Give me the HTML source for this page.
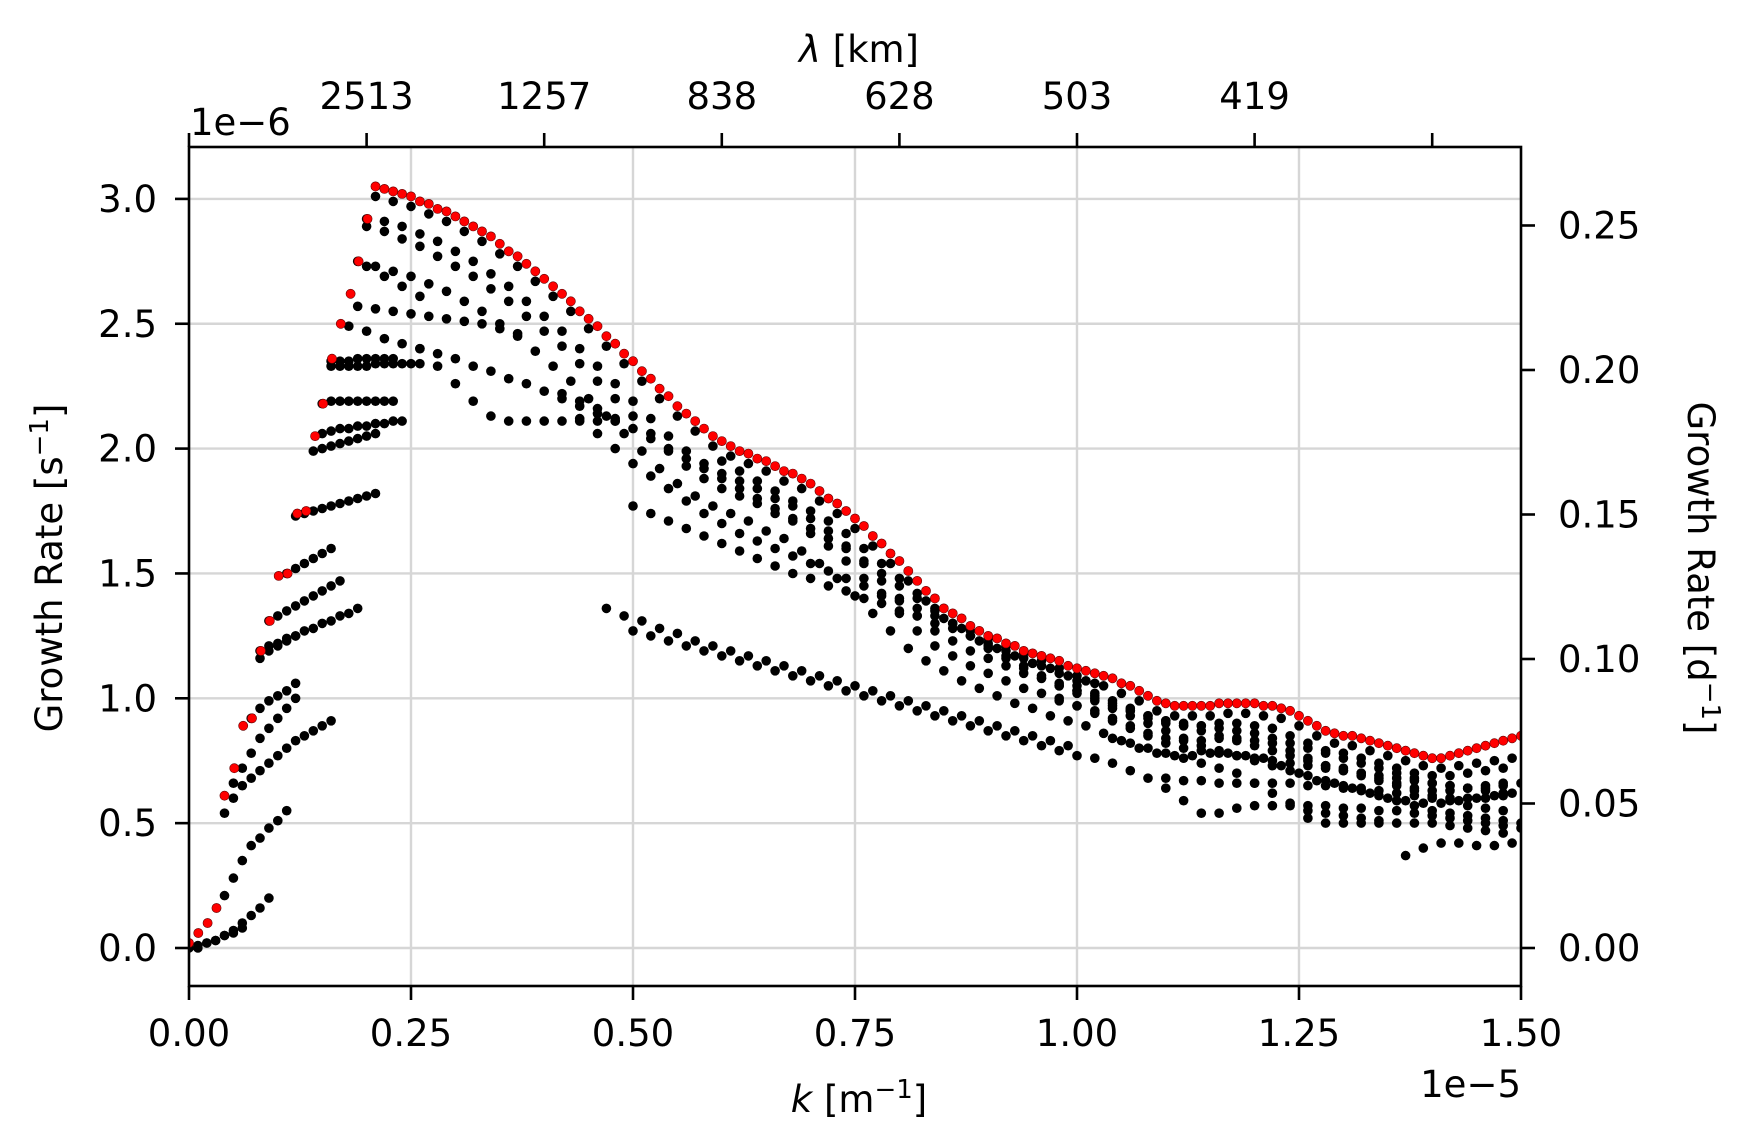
<!DOCTYPE html>
<html><head><meta charset="utf-8"><style>
html,body{margin:0;padding:0;background:#fff;}
svg{display:block;font-family:"DejaVu Sans","Liberation Sans",sans-serif;}
</style></head><body>
<svg id="chart" width="1756" height="1148" viewBox="0 0 1756 1148" xmlns="http://www.w3.org/2000/svg">
<rect x="0" y="0" width="1756" height="1148" fill="#fff"/>
<g id="grid"></g>
<g id="marks"></g>
<g id="axes"></g>
</svg>
<script>
// ---- data (k in 1e-5 m^-1, growth in 1e-6 s^-1) ----
const xTicks = [0, 0.25, 0.5, 0.75, 1.0, 1.25, 1.5];
const xTickLabels = ["0.00","0.25","0.50","0.75","1.00","1.25","1.50"];
const yTicks = [0, 0.5, 1.0, 1.5, 2.0, 2.5, 3.0];
const yTickLabels = ["0.0","0.5","1.0","1.5","2.0","2.5","3.0"];
const rightTicks = [0, 0.05, 0.10, 0.15, 0.20, 0.25];
const rightTickLabels = ["0.00","0.05","0.10","0.15","0.20","0.25"];
const topTicks = [0, 0.2, 0.4, 0.6, 0.8, 1.0, 1.2, 1.4];
const topTickLabels = ["","2513","1257","838","628","503","419",""];

const redLowK = [0.0,0.0105,0.021,0.031,0.04,0.051,0.061,0.071,0.081,0.091,0.101,0.111,0.122,0.132,0.142,0.151,0.161,0.171,0.182,0.191,0.201];
const redLowV = [0.02,0.06,0.10,0.16,0.61,0.72,0.89,0.92,1.19,1.31,1.49,1.50,1.74,1.75,2.05,2.18,2.36,2.50,2.62,2.75,2.92];
const redStart = 0.21;
const redValues = [3.05,3.04,3.03,3.02,3.01,2.99,2.98,2.96,2.95,2.93,2.91,2.89,2.87,2.85,2.82,2.79,2.77,2.74,2.71,2.68,
2.65,2.62,2.59,2.55,2.52,2.49,2.45,2.42,2.38,2.35,2.31,2.28,2.24,2.21,2.17,2.14,2.11,2.08,2.05,2.03,
2.01,1.99,1.98,1.96,1.95,1.93,1.91,1.90,1.88,1.86,1.83,1.80,1.78,1.75,1.72,1.69,1.65,1.62,1.58,1.55,
1.51,1.47,1.43,1.40,1.36,1.34,1.32,1.29,1.27,1.25,1.24,1.22,1.21,1.19,1.18,1.17,1.16,1.15,1.13,1.12,
1.11,1.10,1.09,1.08,1.06,1.05,1.03,1.01,0.99,0.98,0.97,0.97,0.97,0.97,0.97,0.98,0.98,0.98,0.98,0.98,
0.97,0.97,0.96,0.95,0.93,0.91,0.89,0.87,0.86,0.85,0.85,0.84,0.83,0.82,0.81,0.80,0.79,0.78,0.77,0.76,
0.76,0.77,0.78,0.79,0.80,0.81,0.82,0.83,0.84,0.85];

// black branches: start k, step, values
const branchStarts = [0.00,0.01,0.04,0.04,0.05,0.07,0.08,0.08,0.09,0.11,0.12,0.14,0.15,0.15,0.16,0.16,
  0.18,0.26,0.44,0.50,0.47,0.50,1.16,1.10,1.26,1.37,0.21,0.20,0.20,0.19,0.20,0.19,0.42,0.60,1.04,1.00,0.98];
const branchSteps = [0.01,0.01,0.01,0.01,0.01,0.01,0.01,0.01,0.01,0.01,0.01,0.01,0.01,0.01,0.01,0.01,
  0.02,0.02,0.02,0.02,0.02,0.02,0.02,0.02,0.02,0.02,0.02,0.02,0.02,0.02,0.02,0.02,0.02,0.02,0.02,0.02,0.02];
const b0 = [0.00,0.01,0.02,0.03,0.05,0.07,0.10,0.13,0.16,0.20];
const b1 = [0.00,0.02,0.03,0.05,0.06,0.08];
const b2 = [0.21,0.28,0.35,0.41,0.44,0.48,0.51,0.55];
const b3 = [0.54,0.60,0.65,0.68,0.71,0.74,0.77,0.80,0.83,0.85,0.87,0.89,0.91];
const b4 = [0.66,0.72,0.78,0.84,0.88,0.92,0.96,1.00];
const b5 = [0.92,0.96,0.99,1.01,1.03,1.06];
const b6 = [1.16,1.19,1.21,1.23,1.25,1.27,1.28,1.30,1.31,1.33,1.34,1.36];
const b7 = [1.19,1.21,1.22,1.24,1.25];
const b8 = [1.31,1.33,1.35,1.37,1.39,1.41,1.43,1.45,1.47];
const b9 = [1.50,1.52,1.54,1.56,1.58,1.60];
const b10 = [1.73,1.74,1.75,1.76,1.77,1.78,1.79,1.80,1.81,1.82];
const b11 = [1.99,2.00,2.01,2.02,2.03,2.04,2.05,2.06];
const b12 = [2.06,2.07,2.08,2.08,2.09,2.09,2.10,2.10,2.11,2.11];
const b13 = [2.18,2.19,2.19,2.19,2.19,2.19,2.19,2.19,2.19];
const b14 = [2.33,2.33,2.33,2.33,2.33,2.34,2.34,2.34,2.34,2.34,2.34];
const b15 = [2.35,2.35,2.35,2.36,2.36,2.36,2.36,2.36];
const b16 = [2.49,2.47,2.44,2.42,2.40,2.38,2.36,2.33,2.31,2.28,2.26,2.23,2.20,2.17,2.14,2.11];
const b17 = [2.40,2.33,2.26,2.19,2.13,2.11,2.11,2.11,2.11,2.11,2.11,2.11];
const b18 = [2.12,2.06,2.00,1.94,1.89,1.84,1.79,1.74,1.70,1.66,1.63,1.60,1.57,1.54,1.51,1.48,1.45,1.42,1.39,1.36,1.33,1.30,1.27,1.24,1.21,1.18,1.15,1.12,1.09,1.06];
const b19 = [1.77,1.74,1.71,1.68,1.65,1.62,1.59,1.56,1.53,1.50,1.48,1.45,1.43,1.40,1.38,1.35,1.33,1.30,1.28,1.25,1.22,1.19,1.16,1.13,1.10,1.07];
const b20 = [1.36,1.33,1.31,1.28,1.26,1.23,1.21,1.19,1.17,1.15,1.13,1.11,1.09,1.07,1.05,1.03,1.01,0.99,0.97,0.95,0.93,0.91,0.89,0.87,0.85,0.83,0.81];
const b21 = [1.27,1.25,1.23,1.21,1.19,1.17,1.15,1.13,1.11,1.09,1.07,1.05,1.03,1.01,0.99,0.97,0.95,0.93,0.91,0.89,0.87,0.85,0.83,0.81,0.79,0.77,0.76,0.74,0.71,0.68,0.64,0.59,0.54];
const b22 = [0.54,0.56,0.57,0.57,0.57,0.57,0.57,0.56,0.56,0.55,0.55,0.54,0.53,0.52,0.51,0.50,0.49,0.48];
const b23 = [0.68,0.67,0.67,0.66,0.66,0.66,0.66,0.66,0.65,0.65,0.64,0.64,0.63,0.62,0.61,0.60,0.60,0.60,0.60,0.61];
const b24 = [0.52,0.50,0.50,0.50,0.50,0.50,0.50,0.50,0.49,0.48,0.47,0.46];
const b25 = [0.37,0.40,0.42,0.42,0.41,0.41,0.42];
const b26 = [3.01,2.99,2.97,2.94,2.91,2.87,2.83,2.78,2.73,2.67,2.61,2.55,2.48,2.41,2.34,2.27,2.20,2.13,2.07,2.01,1.97,1.94,1.91,1.87,1.84,1.79,1.74,1.68,1.61,1.54,1.47,1.39,1.32,1.28,1.23,1.20,1.17,1.14,1.12,1.09,1.07,1.05,1.02,0.99,0.95,0.93,0.93,0.93,0.94,0.94,0.93,0.92,0.89,0.85,0.82,0.81,0.79,0.77,0.75,0.73,0.72,0.73,0.74,0.75,0.76];
const b27 = [2.92,2.91,2.89,2.86,2.83,2.79,2.75,2.70,2.65,2.59,2.53,2.47,2.40,2.33,2.26,2.19,2.12,2.05,1.99,1.94,1.90,1.87,1.84,1.80,1.77,1.72,1.67,1.61,1.54,1.47,1.40,1.33,1.27,1.23,1.19,1.16,1.13,1.10,1.08,1.05,1.03,1.01,0.98,0.95,0.92,0.90,0.89,0.89,0.90,0.90,0.89,0.88,0.85,0.82,0.79,0.78,0.76,0.74,0.72,0.70,0.69,0.69,0.70,0.71,0.72];
const b28 = [2.89,2.87,2.84,2.81,2.77,2.73,2.69,2.64,2.59,2.53,2.47,2.41,2.34,2.27,2.20,2.13,2.06,1.99,1.93,1.88,1.84,1.81,1.78,1.74,1.71,1.66,1.61,1.55,1.48,1.41,1.34,1.27,1.21,1.17,1.13,1.10,1.07,1.04,1.02,0.99,0.97,0.95,0.92,0.89,0.86,0.84,0.83,0.83,0.84,0.84,0.83,0.82,0.79,0.76,0.73,0.72,0.70,0.68,0.66,0.64,0.63,0.63,0.64,0.65,0.66];
const b29 = [2.75,2.73,2.71,2.69,2.66,2.63,2.59,2.55,2.50,2.45,2.39,2.33,2.27,2.20,2.13,2.06,1.99,1.92,1.86,1.81,1.77,1.74,1.71,1.67,1.64,1.59,1.54,1.48,1.41,1.34,1.27,1.20,1.15,1.11,1.07,1.04,1.01,0.98,0.96,0.93,0.91,0.89,0.86,0.83,0.80,0.78,0.77,0.77,0.78,0.78,0.77,0.76,0.73,0.70,0.67,0.66,0.64,0.62,0.60,0.59,0.58,0.58,0.59,0.60,0.61,0.62];
const b30 = [2.73,2.69,2.65,2.61];
const b31 = [2.57,2.56,2.55,2.54,2.53,2.52,2.51,2.50,2.48,2.46];
const b32 = [2.22,2.19,2.16,2.12,2.08,2.04,2.00,1.96,1.92,1.88,1.84,1.80,1.76,1.72,1.68,1.64,1.60,1.55,1.50,1.45,1.40,1.35,1.30,1.25,1.21,1.17,1.13,1.09,1.06,1.03,1.00,0.97,0.95,0.93,0.91,0.89,0.87,0.85,0.83,0.81,0.79,0.77,0.75,0.73,0.71,0.69,0.67,0.65,0.63,0.61,0.59,0.57,0.56,0.55];
const b33 = [1.95,1.91,1.87,1.83,1.79,1.75,1.71,1.66,1.60,1.54,1.48,1.42,1.36,1.30,1.25,1.20,1.16,1.12,1.08,1.05,1.02,0.99,0.96,0.93,0.90,0.87,0.84,0.81,0.79,0.77,0.75,0.73,0.71,0.69,0.67,0.65,0.63,0.61,0.59,0.57,0.55,0.54,0.53,0.52,0.51,0.50];
const b34 = [0.84,0.82,0.80,0.78,0.76,0.74,0.72,0.70,0.66,0.62,0.58,0.55,0.54,0.53,0.52,0.51];
const b35 = [1.05,1.02,0.99,0.96,0.93,0.91,0.90,0.89,0.88,0.87,0.86,0.84,0.82,0.80,0.78,0.76,0.74,0.72,0.70,0.68,0.66,0.65,0.64,0.64,0.65,0.66];
const b36 = [1.00,0.97,0.94,0.91,0.88,0.85,0.82,0.80,0.79,0.78,0.77,0.76,0.75,0.74,0.73,0.72,0.71,0.70,0.69,0.68,0.67,0.66,0.65,0.64,0.63,0.62];
const branchValues = [b0,b1,b2,b3,b4,b5,b6,b7,b8,b9,b10,b11,b12,b13,b14,b15,b16,b17,b18,b19,b20,b21,b22,b23,b24,b25,b26,b27,b28,b29,b30,b31,b32,b33,b34,b35,b36];

// ---- layout ----
const NS = "http://www.w3.org/2000/svg";
const L = 189, R = 1521, T = 147, B = 986;
const Y0 = 948, PXY = 249.7, PXK = 888;
function xScale(k){ return L + k * PXK; }
function yScale(v){ return Y0 - v * PXY; }
function yRight(d){ return yScale(d / 86400 * 1e6); }
function mk(tag, attrs, parent){
  const e = document.createElementNS(NS, tag);
  for (const a in attrs) e.setAttribute(a, attrs[a]);
  parent.appendChild(e);
  return e;
}
const grid = document.getElementById('grid');
const marks = document.getElementById('marks');
const axes = document.getElementById('axes');

xTicks.forEach((k,i)=>{
  if (i===0 || i===xTicks.length-1) return;
  const g = mk('line',{x1:xScale(k),x2:xScale(k),y1:T,y2:B,stroke:'#d6d6d6','stroke-width':2.4},grid);
  
  
});
yTicks.forEach(v=>{
  const g = mk('line',{x1:L,x2:R,y1:yScale(v),y2:yScale(v),stroke:'#d6d6d6','stroke-width':2.4},grid);
  
  
});

const clip = mk('clipPath',{id:'plotclip'},document.getElementById('chart'));
mk('rect',{x:L,y:T,width:R-L,height:B-T},clip);
marks.setAttribute('clip-path','url(#plotclip)');

branchValues.forEach((vals,bi)=>{
  vals.forEach((v,j)=>{
    const k = branchStarts[bi] + j*branchSteps[bi];
    const c = mk('circle',{cx:xScale(k).toFixed(1),cy:yScale(v).toFixed(1),r:4.8,fill:'#000'},marks);
    
    
  });
});
redLowK.forEach((k,i)=>{
  const c = mk('circle',{cx:xScale(k).toFixed(1),cy:yScale(redLowV[i]).toFixed(1),r:4.6,fill:'#ff0000',stroke:'#600','stroke-width':0.6},marks);
  
  
});
redValues.forEach((v,j)=>{
  const k = redStart + j*0.01;
  const c = mk('circle',{cx:xScale(k).toFixed(1),cy:yScale(v).toFixed(1),r:4.6,fill:'#ff0000',stroke:'#600','stroke-width':0.6},marks);
  
  
});

// spines
const frame = mk('rect',{x:L,y:T,width:R-L,height:B-T,fill:'none',stroke:'#000','stroke-width':2.6},axes);



function txt(s, attrs, name){
  const t = mk('text', Object.assign({'font-size':37,fill:'#000'},attrs), axes);
  t.textContent = s;
  
  
  return t;
}
xTicks.forEach((k,i)=>{
  const tk = mk('line',{x1:xScale(k),x2:xScale(k),y1:B,y2:B+14,stroke:'#000','stroke-width':2.6},axes);
  
  
  txt(xTickLabels[i],{x:xScale(k),y:1046,'text-anchor':'middle'},'x-tick-label');
});
yTicks.forEach((v,i)=>{
  const tk = mk('line',{x1:L-14,x2:L,y1:yScale(v),y2:yScale(v),stroke:'#000','stroke-width':2.6},axes);
  
  
  txt(yTickLabels[i],{x:157,y:yScale(v)+13,'text-anchor':'end'},'y-tick-label');
});
rightTicks.forEach((d,i)=>{
  const tk = mk('line',{x1:R,x2:R+14,y1:yRight(d),y2:yRight(d),stroke:'#000','stroke-width':2.6},axes);
  
  
  txt(rightTickLabels[i],{x:1558,y:yRight(d)+13,'text-anchor':'start'},'right-y-tick-label');
});
topTicks.forEach((k,i)=>{
  const tk = mk('line',{x1:xScale(k),x2:xScale(k),y1:T-14,y2:T,stroke:'#000','stroke-width':2.6},axes);
  
  
  if (topTickLabels[i]) txt(topTickLabels[i],{x:xScale(k),y:109,'text-anchor':'middle'},'top-x-tick-label');
});
txt('1e\u22126',{x:190,y:135,'text-anchor':'start'},'y-offset-label');
txt('1e\u22125',{x:1521,y:1097,'text-anchor':'end'},'x-offset-label');
const lam = txt('',{x:859,y:62,'text-anchor':'middle'},'top-x-axis-title');
lam.innerHTML = '<tspan font-style="italic">λ</tspan> [km]';
const kl = txt('',{x:859,y:1112,'text-anchor':'middle'},'x-axis-title');
kl.innerHTML = '<tspan font-style="italic">k</tspan> [m<tspan dy="-14" font-size="26">−1</tspan><tspan dy="14">]</tspan>';
const yl = txt('',{x:0,y:0,'text-anchor':'middle',transform:'translate(62,568) rotate(-90)'},'y-axis-title');
yl.innerHTML = 'Growth Rate [s<tspan dy="-14" font-size="26">−1</tspan><tspan dy="14">]</tspan>';
const yr = txt('',{x:0,y:0,'text-anchor':'middle',transform:'translate(1688,568) rotate(90)'},'right-y-axis-title');
yr.innerHTML = 'Growth Rate [d<tspan dy="-14" font-size="26">−1</tspan><tspan dy="14">]</tspan>';
</script>
</body></html>
